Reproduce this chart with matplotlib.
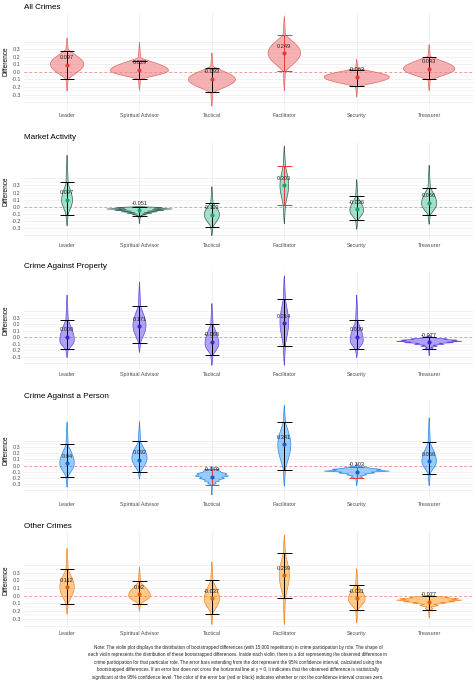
import numpy as np
import matplotlib
matplotlib.use('Agg')
import matplotlib.pyplot as plt

plt.rcParams['font.family'] = ['Liberation Sans', 'DejaVu Sans']

# ----------------------------
# DATA
# ----------------------------
roles = ["Leader", "Spiritual Advisor", "Tactical", "Facilitator", "Security", "Treasurer"]
titles = ["All Crimes", "Market Activity", "Crime Against Property",
          "Crime Against a Person", "Other Crimes"]

# observed difference (dot + label)
obs_all = [0.097, 0.029, -0.093, 0.249, -0.063, 0.043]
obs_market = [0.097, -0.051, -0.113, 0.303, -0.036, 0.056]
obs_property = [0.009, 0.171, -0.068, 0.214, 0.009, -0.077]
obs_person = [0.04, 0.092, -0.179, 0.341, -0.103, 0.066]
obs_other = [0.112, 0.02, -0.037, 0.269, -0.031, -0.077]

# 95% CI (error bars)
ci_lo_all = [-0.09, -0.09, -0.26, 0.01, -0.19, -0.10]
ci_hi_all = [0.275, 0.15, 0.053, 0.49, 0.03, 0.20]
ci_lo_market = [-0.117, -0.135, -0.28, 0.024, -0.19, -0.117]
ci_hi_market = [0.34, 0.0, 0.06, 0.573, 0.15, 0.27]
ci_lo_property = [-0.18, -0.087, -0.28, -0.13, -0.18, -0.18]
ci_hi_property = [0.26, 0.48, 0.21, 0.585, 0.26, 0.0]
ci_lo_person = [-0.18, -0.108, -0.31, -0.065, -0.20, -0.13]
ci_hi_person = [0.355, 0.40, -0.055, 0.70, -0.02, 0.375]
ci_lo_other = [-0.11, -0.11, -0.235, -0.03, -0.185, -0.185]
ci_hi_other = [0.35, 0.185, 0.20, 0.56, 0.14, 0.0]

# violin outline stats: bottom tail, lower neck, widest point, upper neck, top tail, width
tail_lo_all = [-0.25, -0.24, -0.45, -0.245, -0.33, -0.245]
neck_lo_all = [-0.10, -0.10, -0.28, 0.0, -0.20, -0.11]
mode_all = [0.10, 0.02, -0.10, 0.25, -0.07, 0.04]
neck_hi_all = [0.30, 0.19, 0.075, 0.50, 0.05, 0.21]
tail_hi_all = [0.45, 0.39, 0.25, 0.73, 0.165, 0.36]
width_all = [0.46, 0.80, 0.65, 0.45, 0.90, 0.71]

tail_lo_market = [-0.26, -0.23, -0.40, -0.234, -0.31, -0.24]
neck_lo_market = [-0.107, -0.14, -0.28, 0.014, -0.19, -0.117]
mode_market = [0.094, -0.04, -0.107, 0.30, -0.047, 0.048]
neck_hi_market = [0.33, 0.0, 0.06, 0.587, 0.14, 0.28]
tail_hi_market = [0.72, 0.01, 0.28, 0.845, 0.38, 0.58]
width_market = [0.15, 0.90, 0.21, 0.12, 0.19, 0.21]

tail_lo_property = [-0.31, -0.23, -0.43, -0.43, -0.31, -0.28]
neck_lo_property = [-0.20, -0.09, -0.28, -0.13, -0.20, -0.18]
mode_property = [-0.05, 0.18, -0.10, 0.23, -0.05, -0.067]
neck_hi_property = [0.285, 0.49, 0.21, 0.595, 0.26, 0.01]
tail_hi_property = [0.65, 0.85, 0.52, 0.946, 0.65, 0.03]
width_property = [0.20, 0.18, 0.19, 0.12, 0.18, 0.90]

tail_lo_person = [-0.345, -0.215, -0.47, -0.33, -0.32, -0.32]
neck_lo_person = [-0.18, -0.108, -0.31, -0.065, -0.20, -0.13]
mode_person = [0.04, 0.12, -0.17, 0.34, -0.09, 0.07]
neck_hi_person = [0.34, 0.39, -0.055, 0.71, -0.02, 0.375]
tail_hi_person = [0.70, 0.71, -0.01, 0.97, 0.04, 0.77]
width_person = [0.20, 0.21, 0.46, 0.18, 0.90, 0.20]

tail_lo_other = [-0.24, -0.20, -0.374, -0.374, -0.35, -0.29]
neck_lo_other = [-0.11, -0.11, -0.23, -0.03, -0.19, -0.16]
mode_other = [0.11, 0.0, -0.044, 0.264, -0.044, -0.066]
neck_hi_other = [0.35, 0.18, 0.20, 0.56, 0.145, 0.0]
tail_hi_other = [0.617, 0.374, 0.44, 0.79, 0.35, 0.01]
width_other = [0.20, 0.30, 0.21, 0.14, 0.23, 0.90]

# a few violins look stepped/striped: explicit outline (y, relative width)
layered = {
    (1, 1): ([-0.23, -0.15, -0.13, -0.12, -0.11, -0.10, -0.09, -0.08, -0.07, -0.06,
              -0.05, -0.04, -0.03, -0.02, -0.01, 0.0, 0.01],
             [0.0, 0.02, 0.10, 0.04, 0.22, 0.08, 0.38, 0.14, 0.55, 0.25,
              0.75, 0.40, 1.0, 0.45, 0.70, 0.15, 0.0]),
    (2, 5): ([-0.28, -0.19, -0.17, -0.155, -0.14, -0.125, -0.11, -0.095, -0.085, -0.075,
              -0.065, -0.055, -0.045, -0.035, -0.025, -0.015, 0.0, 0.03],
             [0.0, 0.02, 0.12, 0.05, 0.25, 0.12, 0.45, 0.30, 0.75, 0.55,
              1.0, 0.70, 0.85, 0.45, 0.55, 0.20, 0.10, 0.0]),
    (3, 2): ([-0.47, -0.32, -0.29, -0.27, -0.25, -0.23, -0.21, -0.19, -0.17, -0.15,
              -0.13, -0.11, -0.09, -0.07, -0.05, -0.01],
             [0.0, 0.03, 0.25, 0.20, 0.45, 0.40, 0.75, 0.60, 1.0, 0.80,
              0.90, 0.55, 0.50, 0.20, 0.05, 0.0]),
    (3, 4): ([-0.32, -0.21, -0.19, -0.17, -0.15, -0.135, -0.12, -0.105, -0.09, -0.075,
              -0.06, -0.045, -0.03, -0.015, 0.04],
             [0.0, 0.03, 0.18, 0.12, 0.30, 0.25, 0.55, 0.45, 1.0, 0.60,
              0.75, 0.40, 0.35, 0.05, 0.0]),
    (4, 5): ([-0.29, -0.19, -0.17, -0.15, -0.13, -0.115, -0.10, -0.09, -0.08, -0.07,
              -0.06, -0.05, -0.04, -0.03, -0.02, -0.01, 0.01],
             [0.0, 0.02, 0.12, 0.06, 0.28, 0.15, 0.50, 0.35, 0.80, 0.60,
              1.0, 0.70, 0.90, 0.50, 0.60, 0.15, 0.0]),
}

note_lines = [
    "Note: The violin plot displays the distribution of bootstrapped differences (with 15,000 repetitions) in crime participation by role. The shape of",
    "each violin represents the distribution of these bootstrapped differences. Inside each violin, there is a dot representing the observed difference in",
    "crime participation for that particular role. The error bars extending from the dot represent the 95% confidence interval, calculated using the",
    "bootstrapped differences. If an error bar does not cross the horizontal line at y = 0, it indicates that the observed difference is statistically",
    "significant at the 95% confidence level. The color of the error bar (red or black) indicates whether or not the confidence interval crosses zero.",
]

ytick_vals = [-0.3, -0.2, -0.1, 0.0, 0.1, 0.2, 0.3]

panels = [
    (obs_all, ci_lo_all, ci_hi_all, tail_lo_all, neck_lo_all, mode_all, neck_hi_all, tail_hi_all, width_all),
    (obs_market, ci_lo_market, ci_hi_market, tail_lo_market, neck_lo_market, mode_market, neck_hi_market, tail_hi_market, width_market),
    (obs_property, ci_lo_property, ci_hi_property, tail_lo_property, neck_lo_property, mode_property, neck_hi_property, tail_hi_property, width_property),
    (obs_person, ci_lo_person, ci_hi_person, tail_lo_person, neck_lo_person, mode_person, neck_hi_person, tail_hi_person, width_person),
    (obs_other, ci_lo_other, ci_hi_other, tail_lo_other, neck_lo_other, mode_other, neck_hi_other, tail_hi_other, width_other),
]

# --- styles ---
fill_cols = ['#F08080', '#66CDAA', '#7B68EE', '#1E90FF', '#FF8C00']
edge_cols = ['#E06A64', '#3A5F5A', '#6048D8', '#2A8AE8', '#F08A2A']
dot_cols = ['#D8403A', '#1E9E7C', '#3F28C8', '#1565C0', '#E06000']
fill_alpha = [0.6, 0.6, 0.6, 0.45, 0.45]
RED = '#E8383A'
NECK = 0.03


def bulge(t):
    # rounded, slightly convex flank
    return np.sin(np.pi / 2 * t) ** 1.3


def violin_outline(tl, nl, m, nh, th, w):
    """half widths along y for a spiky violin body"""
    n = NECK / 2
    half = w / 2
    y1 = np.linspace(tl, nl, 25)
    h1 = n * ((y1 - tl) / max(nl - tl, 1e-6)) ** 0.8
    y2 = np.linspace(nl, m, 40)
    h2 = n + (half - n) * bulge((y2 - nl) / max(m - nl, 1e-6))
    y3 = np.linspace(m, nh, 40)
    h3 = n + (half - n) * bulge((nh - y3) / max(nh - m, 1e-6))
    y4 = np.linspace(nh, th, 25)
    h4 = n * ((th - y4) / max(th - nh, 1e-6)) ** 0.8
    return np.concatenate([y1, y2, y3, y4]), np.concatenate([h1, h2, h3, h4])


# ----------------------------
# FIGURE
# ----------------------------
W_PX, H_PX = 476, 680
fig = plt.figure(figsize=(W_PX / 100, H_PX / 100), dpi=100)

left_px, ax_w_px, ax_h_px = 23.6, 449.0, 98.0

for p, (obs, lo, hi, tl, nl, md, nh, th, wd) in enumerate(panels):
    top_px = 12.3 + p * 129.6
    ax = fig.add_axes([left_px / W_PX, 1 - (top_px + ax_h_px) / H_PX,
                       ax_w_px / W_PX, ax_h_px / H_PX])

    ymin = min(min(tl), min(lo))
    ymax = max(max(th), max(hi))
    pad = (ymax - ymin) * 0.05
    ax.set_ylim(ymin - pad, ymax + pad)
    ax.set_xlim(-0.6, len(roles) - 0.4)

    # grid
    for g in np.arange(-0.4, 0.401, 0.05):
        major = abs(round(g * 10) - g * 10) < 1e-6
        ax.axhline(g, color='#EBEBEB', lw=0.5 if major else 0.3, zorder=0)
    for i in range(len(roles)):
        ax.axvline(i, color='#EBEBEB', lw=0.5, zorder=0)
    ax.axhline(0, color='#F08A8A', lw=0.6, ls=(0, (3, 3)), zorder=1)

    for i in range(len(roles)):
        if (p, i) in layered:
            ys, rel = layered[(p, i)]
            ys = np.array(ys)
            hs = np.array(rel) * wd[i] / 2
        else:
            ys, hs = violin_outline(tl[i], nl[i], md[i], nh[i], th[i], wd[i])
        ax.fill_betweenx(ys, i - hs, i + hs, facecolor=fill_cols[p],
                         alpha=fill_alpha[p], lw=0, zorder=2)
        ax.plot(np.concatenate([i - hs, (i + hs)[::-1]]),
                np.concatenate([ys, ys[::-1]]),
                color=edge_cols[p], lw=0.5, zorder=3)

        col = 'black' if lo[i] <= 0 <= hi[i] else RED
        ax.vlines(i, lo[i], hi[i], color=col, lw=0.7, zorder=4)
        ax.hlines([lo[i], hi[i]], i - 0.1, i + 0.1, color=col, lw=0.7, zorder=4)
        ax.plot(i, obs[i], 'o', ms=3, color=dot_cols[p], mec='none', zorder=5)
        ax.annotate(format(round(obs[i], 3), 'g'), (i, obs[i]), xytext=(0, 5),
                    textcoords='offset points', ha='center', va='center',
                    fontsize=4.1, color='#222222', zorder=6)

    for s in ax.spines.values():
        s.set_visible(False)
    ax.set_xticks(range(len(roles)))
    ax.set_xticklabels(roles)
    ax.set_yticks(ytick_vals)
    ax.set_yticklabels([f"{v:.1f}" for v in ytick_vals])
    ax.tick_params(length=0, labelsize=3.9, labelcolor='#4D4D4D', pad=2)
    ax.set_ylabel("Difference", fontsize=4.7, va='center')
    ax.yaxis.set_label_coords((6 - left_px) / ax_w_px, 0.5)
    ax.set_title(titles[p], loc='left', fontsize=5.9, pad=2.3)

fig.text(0.5, 1 - 662.3 / H_PX, "\n".join(note_lines), ha='center', va='center',
         fontsize=3.3, linespacing=1.6, color='#222222')

fig.savefig("out.png", dpi=100)
